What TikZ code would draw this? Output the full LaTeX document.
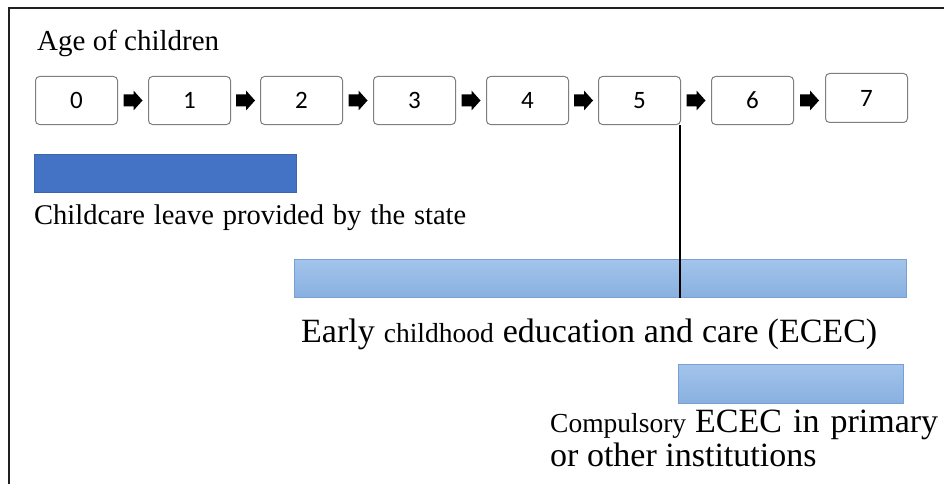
\documentclass[tikz,border=0pt]{standalone}
\usepackage{fontspec}
\setmainfont{Liberation Serif}
\newfontfamily\numfont{Carlito}
\usetikzlibrary{calc}
\definecolor{boxgray}{RGB}{127,127,127}
\definecolor{darkblue}{RGB}{68,114,196}
\definecolor{darkblueedge}{RGB}{60,100,175}
\definecolor{framecol}{RGB}{35,31,32}
\definecolor{lighttop}{RGB}{163,196,235}
\definecolor{lightbot}{RGB}{136,176,224}
\definecolor{lightedge}{RGB}{120,160,212}
\begin{document}
\begin{tikzpicture}[x=1pt,y=-1pt,
  agebox/.style={draw=boxgray, line width=1pt, rounded corners=4pt, minimum width=82pt, minimum height=48pt, inner sep=0pt, font=\numfont\fontsize{25}{28}\selectfont, anchor=north west},
  darkbar/.style={fill=darkblue, draw=darkblueedge, line width=0.6pt, anchor=north west, inner sep=0pt},
  lightbar/.style={top color=lighttop, bottom color=lightbot, draw=lightedge, line width=0.8pt, anchor=north west, inner sep=0pt},
  lbl/.style={anchor=base west, inner sep=0pt},
  frameline/.style={line width=2.5pt, draw=framecol},
  barrow/.pic={\fill[black] (-9.5,-6) -- (0.5,-6) -- (0.5,-10) -- (9.5,0) -- (0.5,10) -- (0.5,6) -- (-9.5,6) -- cycle;}]
\useasboundingbox (0,0) rectangle (944,484);
\fill[white] (0,0) rectangle (944,484);
% frame
\coordinate (ftl) at (9,8);
\draw[frameline] (9,484) -- (ftl) -- (944,8);
% title
\node[lbl] (age) at (37,51) {\fontsize{29}{34}\selectfont Age of children};
% age boxes
\node[agebox] (b0) at (35,76) {0};
\node[agebox] (b1) at (148,76) {1};
\node[agebox] (b2) at (260,76) {2};
\node[agebox] (b3) at (373,76) {3};
\node[agebox] (b4) at (486,76) {4};
\node[agebox] (b5) at (598,76) {5};
\node[agebox] (b6) at (711,76) {6};
\node[agebox, minimum height=49pt] (b7) at (825,73) {7};
% block arrows
\coordinate (m01) at ($(b0.east)!0.5!(b1.west)$);
\coordinate (m12) at ($(b1.east)!0.5!(b2.west)$);
\coordinate (m23) at ($(b2.east)!0.5!(b3.west)$);
\coordinate (m34) at ($(b3.east)!0.5!(b4.west)$);
\coordinate (m45) at ($(b4.east)!0.5!(b5.west)$);
\coordinate (m56) at ($(b5.east)!0.5!(b6.west)$);
\coordinate (m67) at ($(b6.east)!0.5!(b7.west |- b6.east)$);
\foreach \m in {m01,m12,m23,m34,m45,m56,m67} \pic at (\m) {barrow};
% bars
\node[darkbar, minimum width=262pt, minimum height=38pt] (leavebar) at (34,154) {};
\node[lbl] (leave) at (34,224) {\fontsize{28.5}{33}\selectfont\makebox[432pt][s]{Childcare leave provided by the state}};
\node[lightbar, minimum width=612pt, minimum height=38pt] (ececbar) at (294,259) {};
\node[lbl] (ecectext) at (301,342) {\makebox[576pt][s]{\fontsize{34}{40}\selectfont Early {\fontsize{27.5}{32}\selectfont childhood} education and care (ECEC)}};
\node[lightbar, minimum width=225pt, minimum height=39pt] (compbar) at (678,364) {};
\node[lbl] (comp1) at (550,432) {\makebox[388pt][s]{\fontsize{27.5}{32}\selectfont Compulsory \fontsize{34}{40}\selectfont ECEC in primary}};
\node[lbl] (comp2) at (550,466) {\fontsize{34}{40}\selectfont or other institutions};
% age 5 marker line
\draw[line width=1.2pt] ([xshift=-1pt]b5.south east) -- ([xshift=-1pt]b5.south east |- ececbar.south);
\end{tikzpicture}
\end{document}
